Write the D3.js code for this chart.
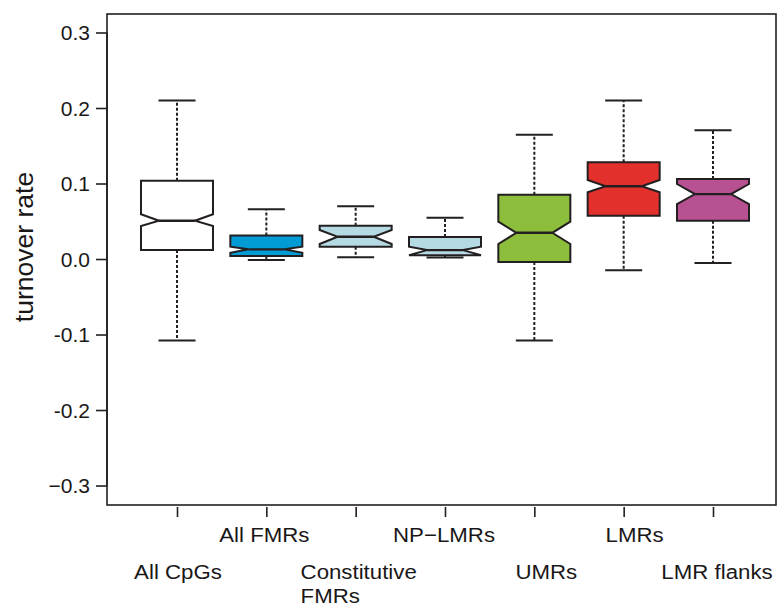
<!DOCTYPE html>
<html>
<head>
<meta charset="utf-8">
<script src="https://cdn.jsdelivr.net/npm/d3@7"></script>
<style>
  body { margin: 0; background: #fff; }
  text { font-family: "Liberation Sans", Arial, sans-serif; fill: #1a1718; }
</style>
</head>
<body>
<div id="chart"></div>
<script>
// DATA
const categories = ['All CpGs', 'All FMRs', 'Constitutive FMRs', 'NP\u2212LMRs', 'UMRs', 'LMRs', 'LMR flanks'];
const whiskerLow = [-0.108, -0.0013, 0.0022, 0.002, -0.108, -0.015, -0.0053];
const q1 = [0.0119, 0.004, 0.0163, 0.005, -0.004, 0.0574, 0.0508];
const notchLow = [0.0437, 0.0083, 0.0199, 0.005, 0.0199, 0.0883, 0.0728];
const medians = [0.0507, 0.0128, 0.0295, 0.0118, 0.0347, 0.0963, 0.086];
const notchHigh = [0.0592, 0.0163, 0.0384, 0.0163, 0.0494, 0.1046, 0.0993];
const q3 = [0.1037, 0.031, 0.0441, 0.029, 0.0852, 0.128, 0.106];
const whiskerHigh = [0.21, 0.066, 0.0698, 0.0547, 0.1646, 0.21, 0.1704];
const fills = ['#ffffff', '#009bd5', '#b6dae4', '#b6dae4', '#8cbd3b', '#e3302d', '#b75192'];
const yTicks = [-0.3, -0.2, -0.1, 0, 0.1, 0.2, 0.3];
const yTickLabels = ['\u22120.3', '-0.2', '-0.1', '0.0', '0.1', '0.2', '0.3'];

const width = 779;
const height = 607;
const plot = { left: 107, right: 776, top: 14, bottom: 505 };
const stroke = '#231f20';

const svg = d3.select('#chart')
  .append('svg')
  .attr('width', width)
  .attr('height', height);

// scales
const yScale = d3.scaleLinear()
  .domain([-0.3258, 0.3245])
  .range([plot.bottom, plot.top]);

const xScale = d3.scalePoint()
  .domain(categories)
  .range([177, 713]);

const boxHalf = 36;
const capHalf = 18.5;

// plot frame
svg.append('rect')
  .attr('x', plot.left)
  .attr('y', plot.top)
  .attr('width', plot.right - plot.left)
  .attr('height', plot.bottom - plot.top)
  .attr('fill', 'none')
  .attr('stroke', stroke)
  .attr('stroke-width', 1.6);

// helper for text, slightly widened where needed
function addText(sel, x, y, str, size, anchor, stretch = 1) {
  return sel.append('text')
    .attr('transform', `translate(${x},${y}) scale(${stretch},1)`)
    .attr('text-anchor', anchor)
    .style('font-size', size + 'px')
    .text(str);
}

// y axis
const yAxis = svg.append('g')
  .attr('transform', `translate(${plot.left},0)`)
  .call(d3.axisLeft(yScale).tickValues(yTicks).tickSize(11).tickFormat(''));
yAxis.select('.domain').remove();
yAxis.selectAll('.tick line').attr('stroke', stroke).attr('stroke-width', 1.6);
svg.append('line')
  .attr('x1', plot.left).attr('x2', plot.left)
  .attr('y1', yScale(-0.3)).attr('y2', yScale(0.3))
  .attr('stroke', stroke).attr('stroke-width', 1.6);

yTicks.forEach((v, i) => {
  addText(svg, 90, yScale(v) + 7.5, yTickLabels[i], 21, 'end');
});

svg.append('text')
  .attr('transform', `translate(33,247) rotate(-90)`)
  .attr('text-anchor', 'middle')
  .style('font-size', '26.5px')
  .text('turnover rate');

// x axis ticks (no axis line)
const xAxis = svg.append('g')
  .attr('transform', `translate(0,${plot.bottom + 2})`)
  .call(d3.axisBottom(xScale).tickSize(10).tickFormat(''));
xAxis.select('.domain').remove();
xAxis.selectAll('.tick line').attr('stroke', stroke).attr('stroke-width', 1.6);

// category labels, staggered on two rows
const labelShift = [1, -2, 3, -1, 12, 11, 4];
const wide = 1.06;
categories.forEach((c, i) => {
  const x = xScale(c) + labelShift[i];
  const y = i % 2 === 1 ? 542 : 579;
  if (c === 'Constitutive FMRs') {
    const t = addText(svg, x, y, 'Constitutive', 21, 'middle', wide);
    const w = t.node().getComputedTextLength() * wide;
    addText(svg, x - w / 2, 603, 'FMRs', 21, 'start', wide);
  } else {
    addText(svg, x, y, c, 21, 'middle', wide);
  }
});

// boxes
const boxes = svg.append('g')
  .selectAll('g')
  .data(categories)
  .enter()
  .append('g');

// whiskers
boxes.each(function (c, i) {
  const g = d3.select(this);
  const x = xScale(c);
  [[q3[i], whiskerHigh[i]], [q1[i], whiskerLow[i]]].forEach(([from, to]) => {
    g.append('line')
      .attr('x1', x).attr('x2', x)
      .attr('y1', yScale(from)).attr('y2', yScale(to))
      .attr('stroke', stroke)
      .attr('stroke-width', 2)
      .attr('stroke-dasharray', '3,2');
    g.append('line')
      .attr('x1', x - capHalf).attr('x2', x + capHalf)
      .attr('y1', yScale(to)).attr('y2', yScale(to))
      .attr('stroke', stroke)
      .attr('stroke-width', 2);
  });
});

// notched box body
boxes.append('path')
  .attr('d', (c, i) => {
    const x = xScale(c);
    const pts = [
      [x - boxHalf, yScale(q1[i])],
      [x - boxHalf, yScale(notchLow[i])],
      [x - boxHalf / 2, yScale(medians[i])],
      [x - boxHalf, yScale(notchHigh[i])],
      [x - boxHalf, yScale(q3[i])],
      [x + boxHalf, yScale(q3[i])],
      [x + boxHalf, yScale(notchHigh[i])],
      [x + boxHalf / 2, yScale(medians[i])],
      [x + boxHalf, yScale(notchLow[i])],
      [x + boxHalf, yScale(q1[i])]
    ];
    return d3.line()(pts) + 'Z';
  })
  .attr('fill', (c, i) => fills[i])
  .attr('stroke', stroke)
  .attr('stroke-width', 2)
  .attr('stroke-linejoin', 'miter');

// median line
boxes.append('line')
  .attr('x1', c => xScale(c) - boxHalf / 2)
  .attr('x2', c => xScale(c) + boxHalf / 2)
  .attr('y1', (c, i) => yScale(medians[i]))
  .attr('y2', (c, i) => yScale(medians[i]))
  .attr('stroke', stroke)
  .attr('stroke-width', 2.4);
</script>
</body>
</html>
